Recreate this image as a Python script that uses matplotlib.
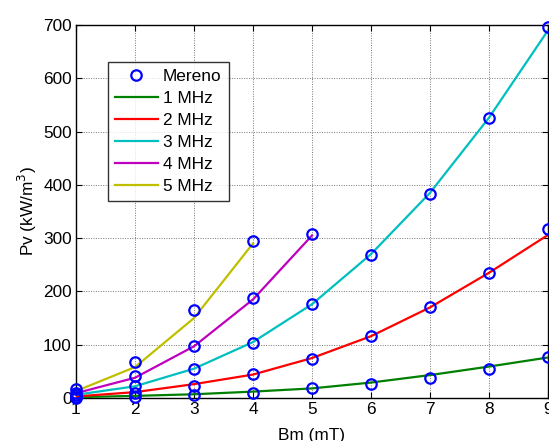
import matplotlib
matplotlib.use("Agg")
import matplotlib.pyplot as plt

plt.rcParams['font.family'] = ['Liberation Sans', 'DejaVu Sans']

bm = [1, 2, 3, 4, 5, 6, 7, 8, 9]

# measured points (Mereno)
meas_1 = [0.5, 2, 5, 10, 18, 26, 38, 54, 77]
meas_2 = [2, 10, 23, 45, 73, 116, 170, 235, 317]
meas_3 = [5, 23, 54, 104, 176, 268, 382, 526, 696]
meas_4 = [10, 41, 98, 187, 307]
meas_5 = [16, 68, 165, 294]

# model lines
fit_1 = [1.5, 4, 7, 12, 18, 29, 43, 59, 76]
fit_2 = [3, 11, 26, 44, 75, 116, 170, 235, 306]
fit_3 = [6, 22, 55, 105, 176, 270, 385, 526, 690]
fit_4 = [9, 38, 97, 185, 305]
fit_5 = [13, 58, 150, 290]

labels = ['1 MHz', '2 MHz', '3 MHz', '4 MHz', '5 MHz']
colors = ['#008000', '#ff0000', '#00bfbf', '#bf00bf', '#bfbf00']

FS = 12.4
fig = plt.figure(figsize=(5.49, 4.41), dpi=100)
W, H = 549, 441
ax = fig.add_axes([76 / W, 1 - 398 / H, (548 - 76) / W, (398 - 25) / H])

fits = [fit_1, fit_2, fit_3, fit_4, fit_5]
meas = [meas_1, meas_2, meas_3, meas_4, meas_5]

# markers
mh = None
for m in meas:
    mh, = ax.plot(bm[:len(m)], m, linestyle='none', marker='o', markersize=7.5,
                  markerfacecolor='none', markeredgecolor='#0000ff',
                  markeredgewidth=1.6, zorder=4, clip_on=False)
lines = []
for f, c, lab in zip(fits, colors, labels):
    l, = ax.plot(bm[:len(f)], f, color=c, lw=1.6, label=lab, zorder=3)
    lines.append(l)

ax.set_xlim(1, 9)
ax.set_ylim(0, 700)
ax.set_xticks(bm)
ax.set_yticks(range(0, 701, 100))
ax.tick_params(direction='in', labelsize=FS, length=4, top=True, right=True,
               pad=3)
ax.grid(True, linestyle=(0, (1, 1.5)), color='#777777', linewidth=0.7)
for s in ax.spines.values():
    s.set_linewidth(1.0)

ax.set_xlabel('Bm (mT)', fontsize=FS, labelpad=8)
ax.set_ylabel('Pv (kW/m$^3$)', fontsize=FS, labelpad=3)

leg = ax.legend([mh] + lines, ['Mereno'] + labels, loc='upper left',
                bbox_to_anchor=((108 - 76) / (548 - 76), 1 - (62 - 25) / (398 - 25)),
                fontsize=FS, frameon=True, fancybox=False, edgecolor='black',
                borderaxespad=0, handlelength=2.5, handletextpad=0.3,
                labelspacing=0.4, borderpad=0.4)
leg.get_frame().set_linewidth(1.0)
leg.set_zorder(10)

fig.savefig('out.png', dpi=100)
